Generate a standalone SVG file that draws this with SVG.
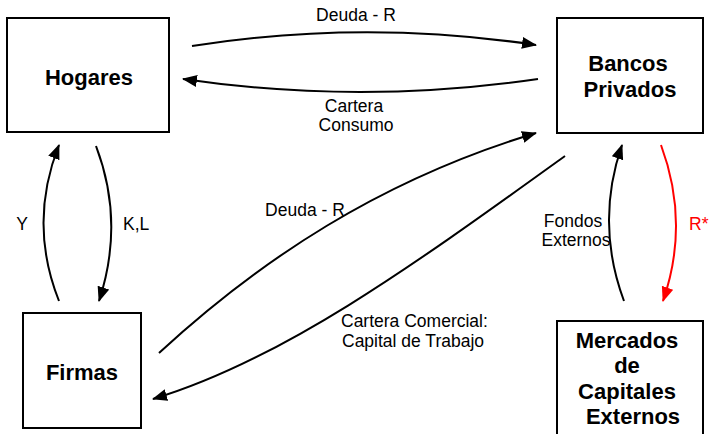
<svg xmlns="http://www.w3.org/2000/svg" width="709" height="434" viewBox="0 0 709 434">
<style>
.box{fill:#fff;stroke:#000;stroke-width:2}
.node{font-family:"Liberation Sans",Arial,sans-serif;font-weight:bold;font-size:22px;text-anchor:middle;fill:#000}
.lbl{font-family:"Liberation Sans",Arial,sans-serif;font-size:17.5px;fill:#000}
.c{fill:none;stroke:#000;stroke-width:2}
.red{stroke:#f00}
</style>
<defs>
<marker id="ah" markerUnits="userSpaceOnUse" markerWidth="16" markerHeight="14" refX="14" refY="6" orient="auto"><path d="M0,0 L15,6 L0,12 z" fill="#000"/></marker>
<marker id="ahr" markerUnits="userSpaceOnUse" markerWidth="16" markerHeight="14" refX="14" refY="6" orient="auto"><path d="M0,0 L15,6 L0,12 z" fill="#f00"/></marker>
</defs>
<rect width="709" height="434" fill="#fff"/>
<g id="hogares"><rect class="box" x="7" y="18" width="162" height="114"/><text class="node" x="89" y="85">Hogares</text></g>
<g id="bancos"><rect class="box" x="557" y="18" width="146" height="115"/><text class="node" x="628" y="71">Bancos</text><text class="node" x="630" y="97">Privados</text></g>
<g id="firmas"><rect class="box" x="23" y="313" width="118" height="115"/><text class="node" x="82" y="380">Firmas</text></g>
<g id="mercados"><rect class="box" x="557" y="321" width="146" height="116"/><text class="node" x="627" y="348">Mercados</text><text class="node" x="627" y="373">de</text><text class="node" x="627" y="399">Capitales</text><text class="node" x="633" y="424">Externos</text></g>
<g id="connectors">
<path class="c" d="M192,46 Q364,19 536,45" marker-end="url(#ah)"/>
<path class="c" d="M538,79 Q360,105 183,79" marker-end="url(#ah)"/>
<path class="c" d="M59,301 Q28,223 59,145" marker-end="url(#ah)"/>
<path class="c" d="M96,146 Q125,222 99,301" marker-end="url(#ah)"/>
<path class="c" d="M159,353 C260,260 380,180 536,133" marker-end="url(#ah)"/>
<path class="c" d="M565,156 C415,264 283,360 153,399" marker-end="url(#ah)"/>
<path class="c" d="M624,301 Q595,223 622,145" marker-end="url(#ah)"/>
<path class="c red" d="M661,145 Q690,223 663,301" marker-end="url(#ahr)"/>
</g>
<g id="labels">
<text class="lbl" x="356" y="21" text-anchor="middle">Deuda - R</text>
<text class="lbl" x="354" y="112" text-anchor="middle">Cartera</text>
<text class="lbl" x="356" y="131" text-anchor="middle">Consumo</text>
<text class="lbl" x="22" y="230" text-anchor="middle">Y</text>
<text class="lbl" x="123" y="230">K,L</text>
<text class="lbl" x="305" y="216" text-anchor="middle">Deuda - R</text>
<text class="lbl" x="573" y="227" text-anchor="middle">Fondos</text>
<text class="lbl" x="576" y="246" text-anchor="middle">Externos</text>
<text class="lbl" x="689" y="230" style="fill:#f00">R*</text>
<text class="lbl" x="341" y="327">Cartera Comercial:</text>
<text class="lbl" x="342" y="347">Capital de Trabajo</text>
</g>
</svg>
